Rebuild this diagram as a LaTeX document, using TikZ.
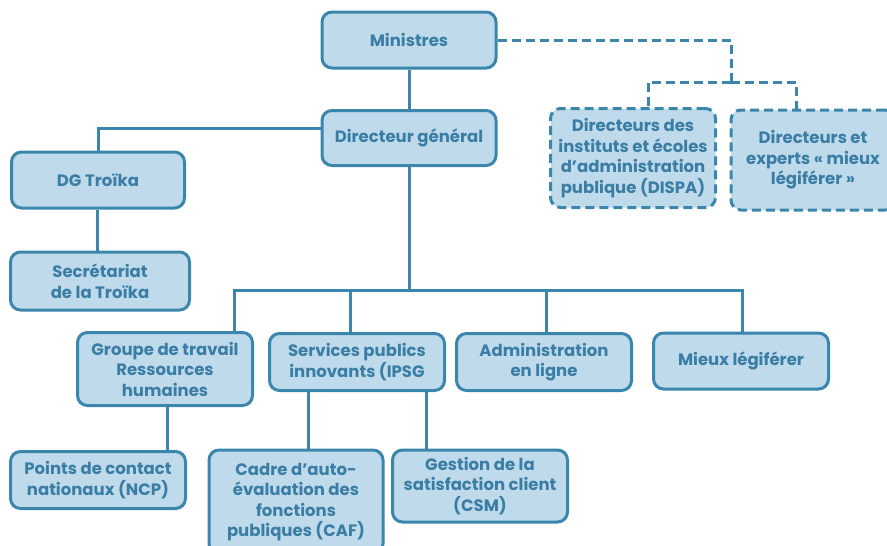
\documentclass[tikz,border=0pt]{standalone}
\usepackage{fontspec}
\setmainfont{Poppins}
\usetikzlibrary{positioning,calc}
\definecolor{boxfill}{HTML}{BFDAEA}
\definecolor{boxline}{HTML}{3B86AC}
\definecolor{boxtext}{HTML}{3A7DA5}

\begin{document}
\begin{tikzpicture}[x=1pt,y=-1pt,
        orgnode/.style={rectangle, rounded corners=10pt, draw=boxline, fill=boxfill, line width=3pt, text=boxtext, font=\bfseries\fontsize{16.5}{20.5}\selectfont, align=center, minimum width=175pt, minimum height=57pt, inner sep=1pt},
        extnode/.style={orgnode, dash pattern=on 9pt off 5pt},
        link/.style={draw=boxline, line width=3pt},
        extlink/.style={link, dash pattern=on 9pt off 5pt}
        ]
    \useasboundingbox (0,0) rectangle (887,546);

    % Nodes
    \node[orgnode, minimum width=174pt, minimum height=56pt] (ministres) at (409,40) {Ministres};
    \node[orgnode, minimum width=174pt, minimum height=55pt] (dg) at (409,138) {Directeur général};
    \node[orgnode, minimum width=173pt, minimum height=56pt] (troika) at (98,180) {DG Troïka};
    \node[orgnode, minimum width=179pt, minimum height=58pt] (secretariat) at (100,281) {Secrétariat\\de la Troïka};
    \node[extnode, minimum width=165pt, minimum height=99pt] (dispa) at (633,158) {Directeurs des\\instituts et écoles\\d’administration\\publique (DISPA)};
    \node[extnode, minimum width=164pt, minimum height=100pt] (experts) at (813,160) {Directeurs et\\experts « mieux\\légiférer »};
    \node[orgnode, minimum height=73pt] (groupe) at (165,369) {Groupe de travail\\Ressources\\humaines};
    \node[orgnode] (services) at (357,362) {Services publics\\innovants (IPSG};
    \node[orgnode] (admin) at (544,362) {Administration\\en ligne};
    \node[orgnode, minimum height=56pt] (mieux) at (741,361) {Mieux légiférer};
    \node[orgnode] (points) at (98,480) {Points de contact\\nationaux (NCP)};
    \node[orgnode, minimum width=174pt, minimum height=104pt] (cadre) at (296,502) {Cadre d’auto-\\évaluation des\\fonctions\\publiques (CAF)};
    \node[orgnode, minimum height=72pt] (gestion) at (480,486) {Gestion de la\\satisfaction client\\(CSM)};
    \coordinate (bus) at (409,290);
    \coordinate (extjoin) at (731,82);

    % Lines
    \draw[link] (ministres) -- (dg);
    \draw[link] ([yshift=10pt]dg.west) -| (troika);
    \draw[link] ([xshift=-1pt]troika.south) -- ([xshift=-1pt]troika.south |- secretariat.north);
    \draw[link] (dg) -- (bus);
    \foreach \child/\shift in {groupe/69, services/-7, admin/2, mieux/1}
        \draw[link] (bus) -| ([xshift=\shift pt]\child.north);
    \draw[link] ([xshift=2pt]groupe.south) -- ([xshift=2pt]groupe.south |- points.north);
    \draw[link] ([xshift=12pt]cadre.north) -- ([xshift=12pt]cadre.north |- services.south);
    \draw[link] ([xshift=-54pt]gestion.north) -- ([xshift=-54pt]gestion.north |- services.south);

    \draw[extlink] (ministres) -| (extjoin);
    \draw[extlink] (extjoin) -| ([xshift=15pt]dispa.north);
    \draw[extlink] (extjoin) -| ([xshift=-17pt]experts.north);

\end{tikzpicture}
\end{document}
